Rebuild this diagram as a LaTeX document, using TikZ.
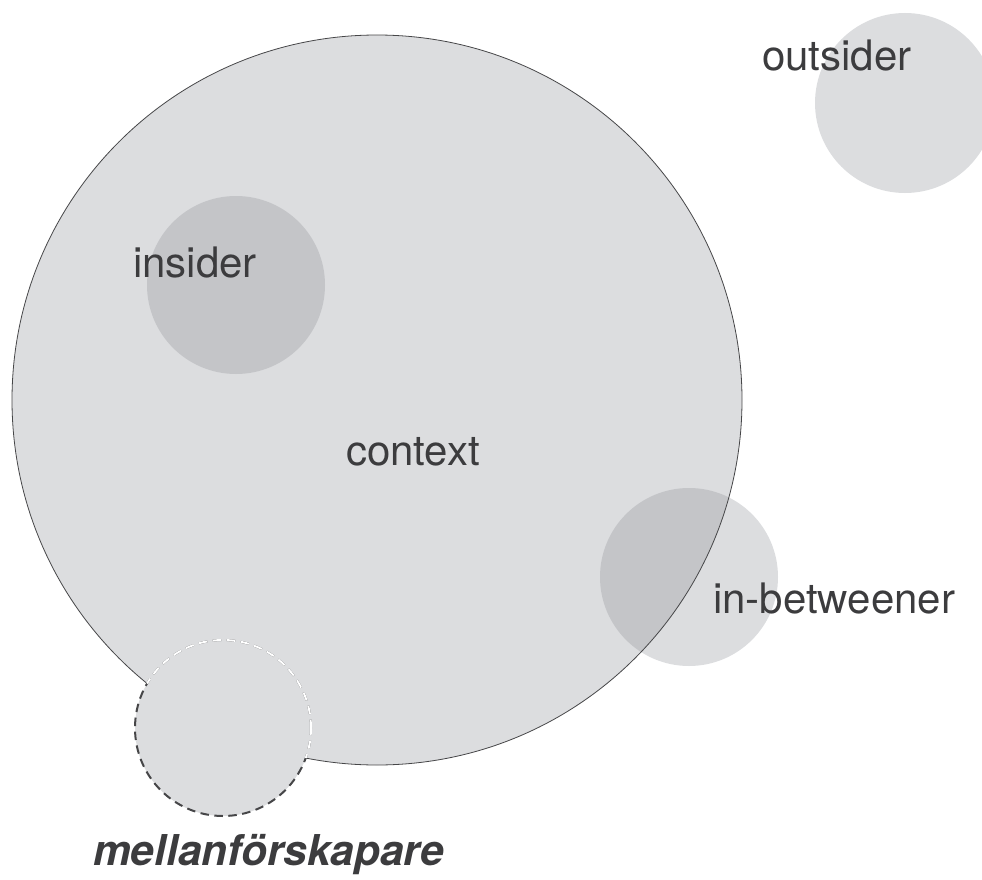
\documentclass[tikz,border=0pt]{standalone}
\usepackage{fontspec}
\setmainfont{TeX Gyre Heros}
\definecolor{discgrey}{RGB}{220,221,223}
\definecolor{deepgrey}{RGB}{196,197,200}
\definecolor{textgrey}{RGB}{60,60,62}
\definecolor{rimgrey}{RGB}{70,70,72}
\tikzset{
  disc/.style={circle,inner sep=0pt,outer sep=0pt,minimum size=#1,fill=discgrey},
  caption/.style={anchor=base west,inner sep=0pt,text=textgrey,font=\fontsize{42}{50}\selectfont},
  rimdash/.style={line width=2pt,dash pattern=on 8.5pt off 5.5pt}
}
\begin{document}
\begin{tikzpicture}[x=1pt,y=-1pt]
\useasboundingbox (0,0) rectangle (982,880);
\clip (0,0) rectangle (982,880);

% main context disc
\node[disc=730pt] (ctx) at (377,400) {};
% insider disc, fully inside
\node[disc=178pt,fill=deepgrey] (ins) at (236,285) {};
% outsider disc, partly beyond the right edge
\node[disc=180pt] (out) at (905,103) {};
% in-betweener disc straddling the rim
\node[disc=178pt] (ibw) at (689,577) {};
\begin{scope}
  \clip (ctx.center) circle[radius=365pt];
  \fill[deepgrey] (ibw.center) circle[radius=89pt];
\end{scope}
% outline of the context disc
\draw[rimgrey,line width=0.8pt] (ctx.center) circle[radius=365pt];

% dashed disc on the lower rim
\node[disc=176pt] (mel) at (223,728) {};
\draw[rimgrey,rimdash] (mel.center) circle[radius=88pt];
\begin{scope}
  \clip (ctx.center) circle[radius=365pt];
  \draw[white,rimdash] (mel.center) circle[radius=88pt];
\end{scope}

% texts
\node[caption] (tout) at (762,71) {outsider};
\node[caption] (tins) at (133,277) {insider};
\node[caption] (tctx) at (346,465) {context};
\node[caption] (tibw) at (713,613) {in-betweener};
\node[caption,font=\fontsize{42.5}{50}\selectfont\bfseries\itshape] (tmel) at (93,865) {mellanförskapare};
\end{tikzpicture}
\end{document}
